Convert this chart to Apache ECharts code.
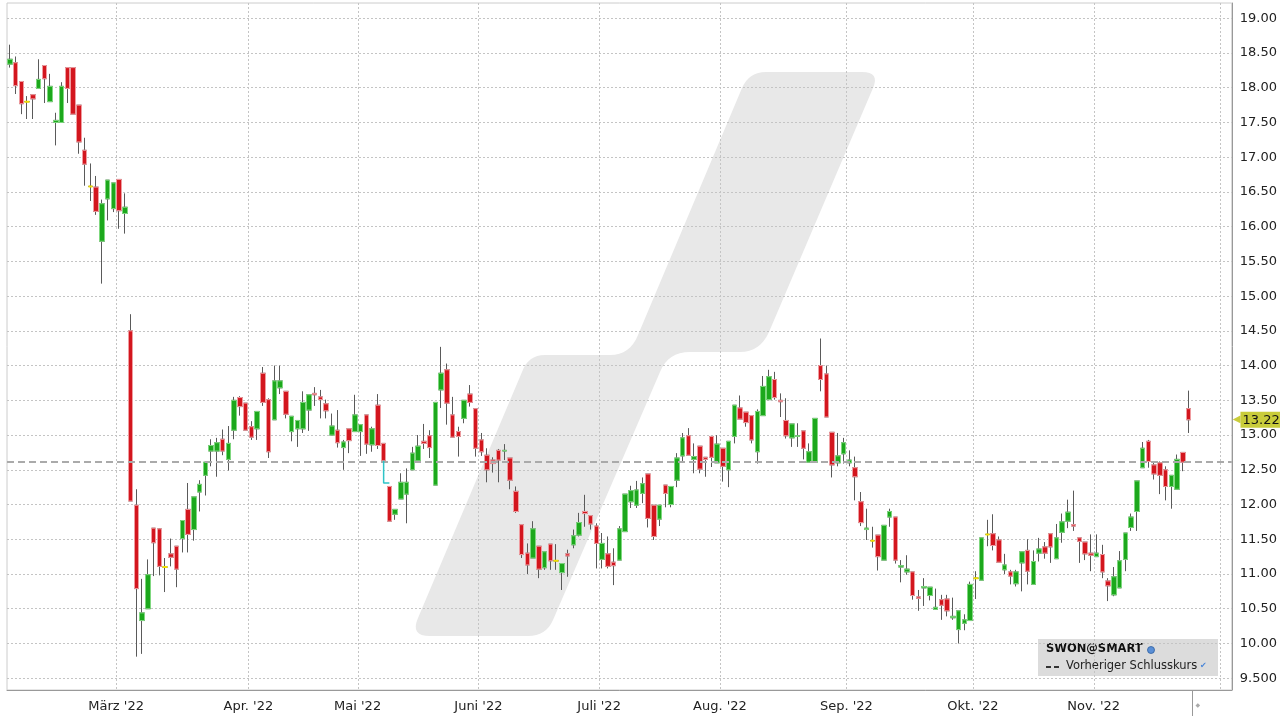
<!DOCTYPE html>
<html>
<head>
<meta charset="utf-8">
<script src="https://cdn.jsdelivr.net/npm/echarts@6/dist/echarts.min.js"></script>
<style>
html,body{margin:0;padding:0;background:#fff;}
#chart{width:1280px;height:720px;}
</style>
</head>
<body>
<div id="chart"></div>
<script>
// ---------- data ----------
const symbolName = 'SWON@SMART';
const prevCloseName = 'Vorheriger Schlusskurs';
const startDate = '2022-02-02';
const holidays = ['2022-04-15', '2022-04-18', '2022-05-26', '2022-06-06', '2022-08-01'];
const futureDays = 7;

const opens = [
18.34,18.36,18.09,17.80,17.90,17.99,18.32,17.80,17.50,17.50,18.29,18.29,17.75,17.10,16.58,16.57,15.79,16.40,16.26,16.68,
16.19,14.50,11.99,10.33,10.50,11.66,11.65,11.10,11.29,11.40,11.51,11.93,11.64,12.18,12.42,12.77,12.77,12.94,12.65,13.07,
13.54,13.46,13.12,13.09,13.89,13.51,13.22,13.68,13.63,13.05,13.09,13.09,13.36,13.60,13.55,13.45,13.00,13.07,12.82,13.09,
13.05,13.05,13.29,12.86,13.43,12.88,12.26,11.86,12.08,12.15,12.50,12.63,12.91,12.99,12.28,13.65,13.94,13.29,13.05,13.24,
13.59,13.38,12.93,12.71,12.64,12.78,12.77,12.67,12.19,11.71,11.30,11.23,11.40,11.09,11.43,11.19,11.02,11.29,11.42,11.56,
11.90,11.84,11.69,11.21,11.29,11.17,11.20,11.61,12.04,11.99,12.16,12.44,11.99,11.79,12.28,12.00,12.35,12.70,12.99,12.65,
12.84,12.68,12.98,12.60,12.81,12.50,12.98,13.39,13.33,13.28,12.76,13.28,13.51,13.80,13.50,13.21,12.96,12.98,13.06,12.61,
12.61,14.00,13.88,13.04,12.60,12.73,12.60,12.53,12.04,11.64,11.48,11.56,11.20,11.82,11.82,11.10,11.03,11.03,10.67,10.80,
10.69,10.49,10.63,10.64,10.37,10.20,10.29,10.33,10.94,10.91,11.57,11.58,11.49,11.06,11.03,10.86,11.16,11.34,10.85,11.30,
11.39,11.58,11.22,11.60,11.76,11.71,11.52,11.46,11.30,11.25,11.28,10.90,10.70,10.80,11.21,11.67,11.90,12.53,12.91,12.57,
12.60,12.50,12.26,12.22,12.75,13.38];
const closes = [
18.41,18.03,17.77,17.80,17.84,18.12,18.13,18.02,17.53,18.02,17.99,17.62,17.22,16.90,16.58,16.22,16.33,16.67,16.63,16.23,
16.28,12.05,10.79,10.44,10.99,11.45,11.11,11.10,11.24,11.07,11.77,11.57,12.11,12.29,12.61,12.85,12.89,12.77,12.88,13.50,
13.41,13.07,12.97,13.34,13.47,12.76,13.78,13.78,13.30,13.27,13.21,13.47,13.58,13.58,13.51,13.35,13.13,12.89,12.90,12.92,
13.29,13.15,12.87,13.09,12.85,12.63,11.76,11.93,12.32,12.32,12.74,12.84,12.88,12.82,13.47,13.89,13.46,12.97,12.98,13.50,
13.47,12.81,12.76,12.50,12.59,12.64,12.78,12.35,11.90,11.28,11.13,11.65,11.07,11.32,11.19,11.19,11.15,11.26,11.55,11.74,
11.87,11.72,11.44,11.44,11.11,11.12,11.65,12.15,12.20,12.21,12.30,11.80,11.54,11.99,12.16,12.26,12.67,12.96,12.71,12.69,
12.51,12.65,12.68,12.87,12.55,12.91,13.43,13.23,13.18,12.93,13.34,13.70,13.84,13.54,13.48,12.99,13.16,12.99,12.81,12.76,
13.24,13.80,13.26,12.57,12.70,12.89,12.64,12.40,11.74,11.66,11.48,11.25,11.70,11.90,11.20,11.12,11.07,10.69,10.65,10.82,
10.81,10.52,10.55,10.47,10.39,10.47,10.34,10.85,10.94,11.52,11.57,11.41,11.17,11.13,10.97,11.03,11.32,11.04,11.18,11.36,
11.30,11.39,11.52,11.75,11.89,11.69,11.47,11.29,11.27,11.30,11.03,10.83,10.96,11.19,11.59,11.82,12.34,12.81,12.62,12.44,
12.42,12.26,12.42,12.65,12.61,13.22];
const lows = [
18.29,17.91,17.62,17.55,17.55,17.99,17.78,17.80,17.17,17.50,17.78,17.62,17.05,16.59,16.37,16.17,15.18,16.09,16.21,15.97,
15.90,12.05,9.81,9.85,10.50,10.97,10.98,10.74,11.11,10.81,11.31,11.31,11.48,11.90,12.13,12.55,12.40,12.71,12.49,12.94,
13.28,13.07,12.93,12.93,13.42,12.67,13.22,13.59,13.24,12.91,12.83,13.03,13.06,13.42,13.24,13.24,13.00,12.82,12.50,12.74,
13.05,12.70,12.73,12.76,12.80,12.43,11.76,11.78,12.08,11.73,12.50,12.63,12.80,12.67,12.28,13.39,13.15,12.97,12.69,13.17,
13.41,12.69,12.70,12.32,12.46,12.32,12.64,12.22,11.88,11.23,11.00,11.23,10.94,11.06,11.06,11.06,10.77,10.96,11.37,11.54,
11.68,11.64,11.08,11.08,11.08,10.84,11.20,11.61,11.95,11.95,12.02,11.67,11.49,11.69,11.96,11.96,12.25,12.60,12.71,12.45,
12.45,12.40,12.54,12.60,12.33,12.25,12.88,13.23,13.12,12.88,12.59,13.28,13.51,13.51,13.26,12.95,12.83,12.83,12.65,12.61,
12.61,13.63,13.26,12.39,12.55,12.59,12.55,12.06,11.69,11.49,11.38,11.05,11.20,11.68,11.15,10.88,10.99,10.63,10.47,10.54,
10.62,10.49,10.34,10.39,10.34,10.00,10.19,10.33,10.64,10.91,11.40,11.34,11.17,11.00,10.85,10.82,10.75,10.85,10.85,11.18,
11.22,11.16,11.22,11.45,11.66,11.62,11.16,11.20,11.04,11.25,10.94,10.61,10.68,10.80,11.04,11.62,11.62,12.53,12.53,12.36,
12.15,12.06,11.94,12.22,12.48,13.03];
const highs = [
18.62,18.45,18.09,17.88,17.90,18.41,18.32,18.20,17.64,18.08,18.29,18.29,17.75,17.28,16.91,16.73,16.39,16.67,16.63,16.68,
16.48,14.74,12.22,10.93,11.21,11.66,11.66,11.23,11.51,11.40,11.77,12.31,12.11,12.35,12.61,12.94,12.96,13.08,13.13,13.55,
13.56,13.46,13.20,13.34,13.98,13.53,14.00,14.00,13.63,13.27,13.21,13.63,13.58,13.69,13.65,13.51,13.31,13.36,12.93,13.09,
13.58,13.15,13.29,13.12,13.59,12.88,12.26,11.93,12.45,12.52,12.83,13.00,13.16,13.07,13.47,14.27,14.03,13.55,13.12,13.50,
13.72,13.38,13.03,12.81,12.68,12.80,12.87,12.67,12.26,11.71,11.44,11.76,11.40,11.32,11.43,11.43,11.15,11.35,11.64,11.88,
12.14,11.84,11.73,11.59,11.54,11.37,11.69,12.15,12.27,12.34,12.39,12.44,11.99,11.99,12.28,12.26,12.74,13.03,13.10,12.88,
12.84,12.68,12.98,13.00,12.81,12.91,13.43,13.57,13.33,13.28,13.37,13.85,13.94,13.91,13.60,13.53,13.16,13.17,13.06,12.88,
13.24,14.39,14.00,13.04,13.03,12.96,12.78,12.69,12.18,11.94,11.68,11.56,11.70,11.94,11.82,11.20,11.27,11.03,10.77,10.94,
10.81,10.79,10.70,10.70,10.66,10.47,10.42,10.89,11.04,11.52,11.78,11.86,11.54,11.29,11.06,11.06,11.32,11.50,11.34,11.52,
11.46,11.58,11.72,11.87,12.07,12.20,11.52,11.46,11.57,11.57,11.42,10.94,11.10,11.33,11.59,11.87,12.34,12.90,12.93,12.60,
12.62,12.55,12.42,12.72,12.75,13.64];

// ex-dividend marker (candle number, amount)
const dividendCandle = 67;
const dividendAmount = 0.32;

const monthLabels = {
  '2022-03': "März '22", '2022-04': "Apr. '22", '2022-05': "Mai '22", '2022-06': "Juni '22",
  '2022-07': "Juli '22", '2022-08': "Aug. '22", '2022-09': "Sep. '22", '2022-10': "Okt. '22",
  '2022-11': "Nov. '22"
};
const priceLevels = [9.5,10,10.5,11,11.5,12,12.5,13,13.5,14,14.5,15,15.5,16,16.5,17,17.5,18,18.5,19];
const yMin = 9.33, yMax = 19.22, yStep = 0.01;

// ---------- helpers ----------
const FONT = 'DejaVu Sans';
function tradingDays(start, count) {
  const out = [];
  const d = new Date(start + 'T00:00:00Z');
  while (out.length < count) {
    const dow = d.getUTCDay();
    const s = d.toISOString().slice(0, 10);
    if (dow !== 0 && dow !== 6 && holidays.indexOf(s) < 0) out.push(s);
    d.setUTCDate(d.getUTCDate() + 1);
  }
  return out;
}
const n = opens.length;
const dates = tradingDays(startDate, n + futureDays);
const monthStart = dates.map((s, i) => i > 0 && s.slice(0, 7) !== dates[i - 1].slice(0, 7));

const UP = '#1ca81c', UP_B = '#7fd87f', DOWN = '#d3161e', DOWN_B = '#f09ca0', DOJI = '#f2e000', WICK = '#5a5a5a';
const BAR_W = 5;

const wickData = opens.map((o, i) => [o, closes[i], lows[i], highs[i]]);
const bodyData = opens.map((o, i) => {
  const c = closes[i];
  const v = [o, c, Math.min(o, c), Math.max(o, c)];
  if (o === c) return { value: v, itemStyle: { borderColor: DOJI, borderColor0: DOJI, borderWidth: 2 } };
  return v;
});
const lastClose = closes[n - 1];
const prevClose = closes[n - 2];
const di = dividendCandle - 1;
const divData = [
  [dates[di - 1], closes[di - 1]],
  [dates[di - 1], +(closes[di - 1] - dividendAmount).toFixed(2)],
  [dates[di], +(closes[di - 1] - dividendAmount).toFixed(2)]
];

function isLevel(v) { return priceLevels.some(p => Math.abs(p - v) < 1e-6); }

// decorative watermark outline (flattened rounded shape)
function flatten(cmds) {
  const pts = [];
  let cur = null;
  cmds.forEach(c => {
    if (c[0] === 'M' || c[0] === 'L') { cur = [c[1], c[2]]; pts.push(cur); }
    else if (c[0] === 'Q') {
      const p0 = cur, p1 = [c[1], c[2]], p2 = [c[3], c[4]];
      for (let t = 1; t <= 8; t++) {
        const u = t / 8;
        pts.push([(1-u)*(1-u)*p0[0] + 2*(1-u)*u*p1[0] + u*u*p2[0], (1-u)*(1-u)*p0[1] + 2*(1-u)*u*p1[1] + u*u*p2[1]]);
      }
      cur = p2;
    }
  });
  return pts;
}
const watermarkPts = flatten([
  ['M',545,355],['L',610,355],['Q',630,355,638,335],['L',742,88],['Q',749,72,766,72],['L',862,72],
  ['Q',880,72,873,88],['L',769,332],['Q',760,352,740,352],['L',690,352],['Q',668,352,660,372],
  ['L',553,620],['Q',546,636,528,636],['L',430,636],['Q',410,636,418,618],['L',522,372],['Q',528,355,545,355]
]);

const chart = echarts.init(document.getElementById('chart'), null, { renderer: 'canvas' });

const baseGraphics = [
  { type: 'polygon', z: -10, silent: true, shape: { points: watermarkPts }, style: { fill: '#e8e8e8' } },
  {
    type: 'group', x: 1038, y: 639, z: 50,
    children: [
      { type: 'rect', shape: { x: 0, y: 0, width: 180, height: 37 }, style: { fill: '#dcdcdc' } },
      { type: 'text', x: 8, y: 4, style: { text: symbolName, font: 'bold 11.5px "DejaVu Sans"', fill: '#111111' } },
      { type: 'circle', shape: { cx: 113, cy: 11, r: 3.5 }, style: { fill: '#5a8fd6', stroke: '#2f5f9f', lineWidth: 0.8 } },
      { type: 'line', shape: { x1: 8, y1: 28, x2: 24, y2: 28 }, style: { stroke: '#333333', lineWidth: 2, lineDash: [5, 3] } },
      { type: 'text', x: 28, y: 21, style: { text: prevCloseName, font: '11.5px "DejaVu Sans"', fill: '#222222' } },
      { type: 'text', x: 162, y: 23, style: { text: '✔', font: '8px "DejaVu Sans"', fill: '#4a86d8' } }
    ]
  }
];

const option = {
  animation: false,
  backgroundColor: '#ffffff',
  textStyle: { fontFamily: FONT },
  grid: {
    left: 7, right: 47, top: 3, bottom: 30,
    show: true, borderColor: '#cccccc', borderWidth: 1, backgroundColor: 'transparent',
    containLabel: false
  },
  xAxis: {
    type: 'category',
    data: dates,
    boundaryGap: true,
    axisLine: { show: true, lineStyle: { color: '#999999', width: 1 } },
    axisTick: { show: false },
    axisLabel: {
      interval: (i) => monthStart[i] && !!monthLabels[dates[i].slice(0, 7)],
      formatter: (v) => monthLabels[v.slice(0, 7)] || '',
      fontFamily: FONT, fontSize: 13, color: '#222222', margin: 10,
      padding: [0, 6, 0, 0]
    },
    splitLine: {
      show: true,
      interval: (i) => monthStart[i],
      lineStyle: { color: '#c4c4c4', width: 1, type: [2, 2] }
    }
  },
  yAxis: {
    type: 'value',
    position: 'right',
    min: yMin, max: yMax, interval: yStep,
    axisLine: { show: true, lineStyle: { color: '#999999', width: 1 } },
    axisTick: { show: false },
    splitLine: { show: false },
    axisLabel: {
      formatter: (v) => isLevel(v) ? v.toPrecision(4) : '',
      fontFamily: FONT, fontSize: 13, color: '#222222', margin: 8
    }
  },
  graphic: baseGraphics,
  series: [
    {
      name: 'wick',
      type: 'candlestick',
      data: wickData,
      barWidth: BAR_W,
      silent: true,
      z: 2,
      itemStyle: { color: 'transparent', color0: 'transparent', borderColor: WICK, borderColor0: WICK, borderWidth: 1 },
      markLine: {
        silent: true, animation: false, z: 1,
        symbol: ['none', 'none'],
        label: { show: false },
        lineStyle: { color: '#c4c4c4', width: 1, type: [2, 2] },
        data: priceLevels.map(v => ({ yAxis: v }))
      }
    },
    {
      name: symbolName,
      type: 'candlestick',
      data: bodyData,
      barWidth: BAR_W,
      z: 3,
      itemStyle: { color: UP, color0: DOWN, borderColor: UP_B, borderColor0: DOWN_B, borderWidth: 1 },
      markLine: {
        silent: true, animation: false, z: 4,
        symbol: ['none', 'none'],
        data: [
          { yAxis: prevClose, lineStyle: { color: '#aaaaaa', width: 2, type: [7, 4] }, label: { show: false } }
        ]
      }
    },
    {
      name: 'lastPrice',
      type: 'line',
      data: [],
      silent: true,
      markLine: {
        silent: true, animation: false, z: 6,
        symbol: ['none', 'none'],
        data: [{
          yAxis: lastClose,
          lineStyle: { color: 'rgba(0,0,0,0)', width: 0 },
          label: {
            show: true, position: 'end', distance: 1,
            formatter: '{a|◀}{b|' + lastClose.toFixed(2) + '}',
            rich: {
              a: { color: '#c9cc3a', fontSize: 10, fontFamily: FONT },
              b: { backgroundColor: '#c9cc3a', color: '#111111', fontSize: 13, fontFamily: FONT, padding: [2, 3, 1, 2] }
            }
          }
        }]
      }
    },
    {
      name: 'dividend',
      type: 'line',
      data: divData,
      symbol: 'none',
      silent: true,
      z: 4,
      lineStyle: { color: '#2ec4c8', width: 1.5 }
    }
  ]
};
chart.setOption(option);

// end-of-data marker on the time axis
const x1 = chart.convertToPixel({ xAxisIndex: 0 }, dates[n - 1]);
const x2 = chart.convertToPixel({ xAxisIndex: 0 }, dates[n]);
const xm = Math.round((x1 + x2) / 2) + 0.5;
chart.setOption({
  graphic: baseGraphics.concat([
    { type: 'line', z: 50, shape: { x1: xm, y1: 690, x2: xm, y2: 716 }, style: { stroke: '#999999', lineWidth: 1 } },
    { type: 'text', z: 50, x: xm + 3, y: 702, style: { text: '◆', font: '6px "DejaVu Sans"', fill: '#aaaaaa' } }
  ])
});
</script>
</body>
</html>
